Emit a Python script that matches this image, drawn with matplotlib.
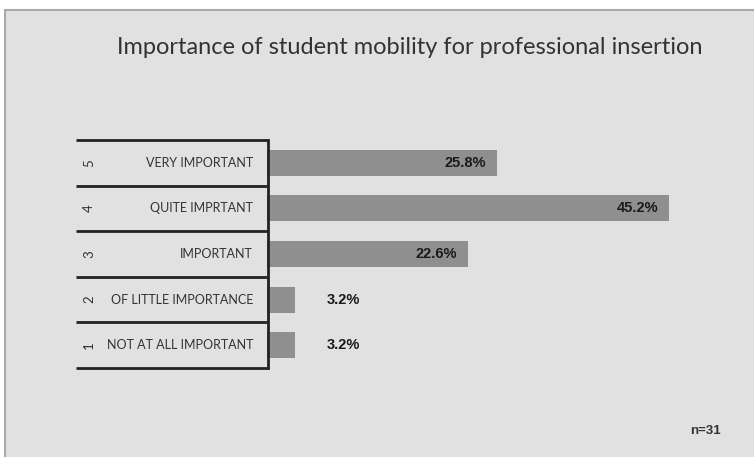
import matplotlib
matplotlib.use("Agg")
import matplotlib.pyplot as plt
from matplotlib.patches import Rectangle
from matplotlib.transforms import blended_transform_factory

# Survey answers, bottom row first
codes = ['1', '2', '3', '4', '5']
answers = ['NOT AT ALL IMPORTANT', 'OF LITTLE IMPORTANCE', 'IMPORTANT',
           'QUITE IMPRTANT', 'VERY IMPORTANT']
shares = [3.2, 3.2, 22.6, 45.2, 25.8]
n_resp = 31

W, H = 754, 457
fig = plt.figure(figsize=(W / 100, H / 100), dpi=100)
fig.patch.set_facecolor('white')

# grey panel behind the chart
fig.patches.append(Rectangle((5 / W, -0.05), 1, 1.05 - 10 / H, transform=fig.transFigure,
                             facecolor='#e1e1e1', edgecolor='#a9a9a9', linewidth=1.5,
                             zorder=-1))

ax = fig.add_axes([267 / W, 89 / H, 445 / W, 228 / H])
ax.set_zorder(2)
ax.set_facecolor('none')
y = list(range(len(shares)))
ax.barh(y, shares, height=0.57, color='#8f8f8f', zorder=2)
ax.set_xlim(0, 50)
ax.set_ylim(-0.5, len(shares) - 0.5)
for s in ax.spines.values():
    s.set_visible(False)
ax.set_xticks([])
ax.set_yticks([])

# value labels: inside the bar end when there is room, otherwise beside it
for yi, v in zip(y, shares):
    if v > 10:
        ax.text(v - 1.2, yi, f'{v:.1f}%', ha='right', va='center', fontsize=10.5,
                fontweight='bold', family='Liberation Sans', color='#1a1a1a')
    else:
        ax.text(v + 3.5, yi, f'{v:.1f}%', ha='left', va='center', fontsize=10.5,
                fontweight='bold', family='Liberation Sans', color='#1a1a1a')

# category table on the left
tr = blended_transform_factory(fig.transFigure, ax.transData)
x0, x1 = 76 / W, 268 / W
for b in range(len(shares) + 1):
    ax.plot([x0, x1], [b - 0.5, b - 0.5], transform=tr, color='#222222',
            lw=2, clip_on=False, solid_capstyle='butt')
ax.plot([x1, x1], [-0.5, len(shares) - 0.5], transform=tr, color='#222222',
        lw=2, clip_on=False)
for yi, c, a in zip(y, codes, answers):
    ax.text(89 / W, yi, c, transform=tr, rotation=90, ha='center', va='center',
            fontsize=9.5, family='Lato', color='#333333')
    ax.text(253 / W, yi, a, transform=tr, ha='right', va='center',
            fontsize=9, family='Lato', color='#333333')

fig.text(410 / W, 1 - 48 / H, 'Importance of student mobility for professional insertion',
         ha='center', va='center', fontsize=17, family='Lato', color='#333333')
fig.text(705 / W, 1 - 431 / H, f'n={n_resp}', ha='center', va='center', fontsize=9.5,
         fontweight='bold', family='Liberation Sans', color='#333333')

fig.savefig('out.png', dpi=100)
